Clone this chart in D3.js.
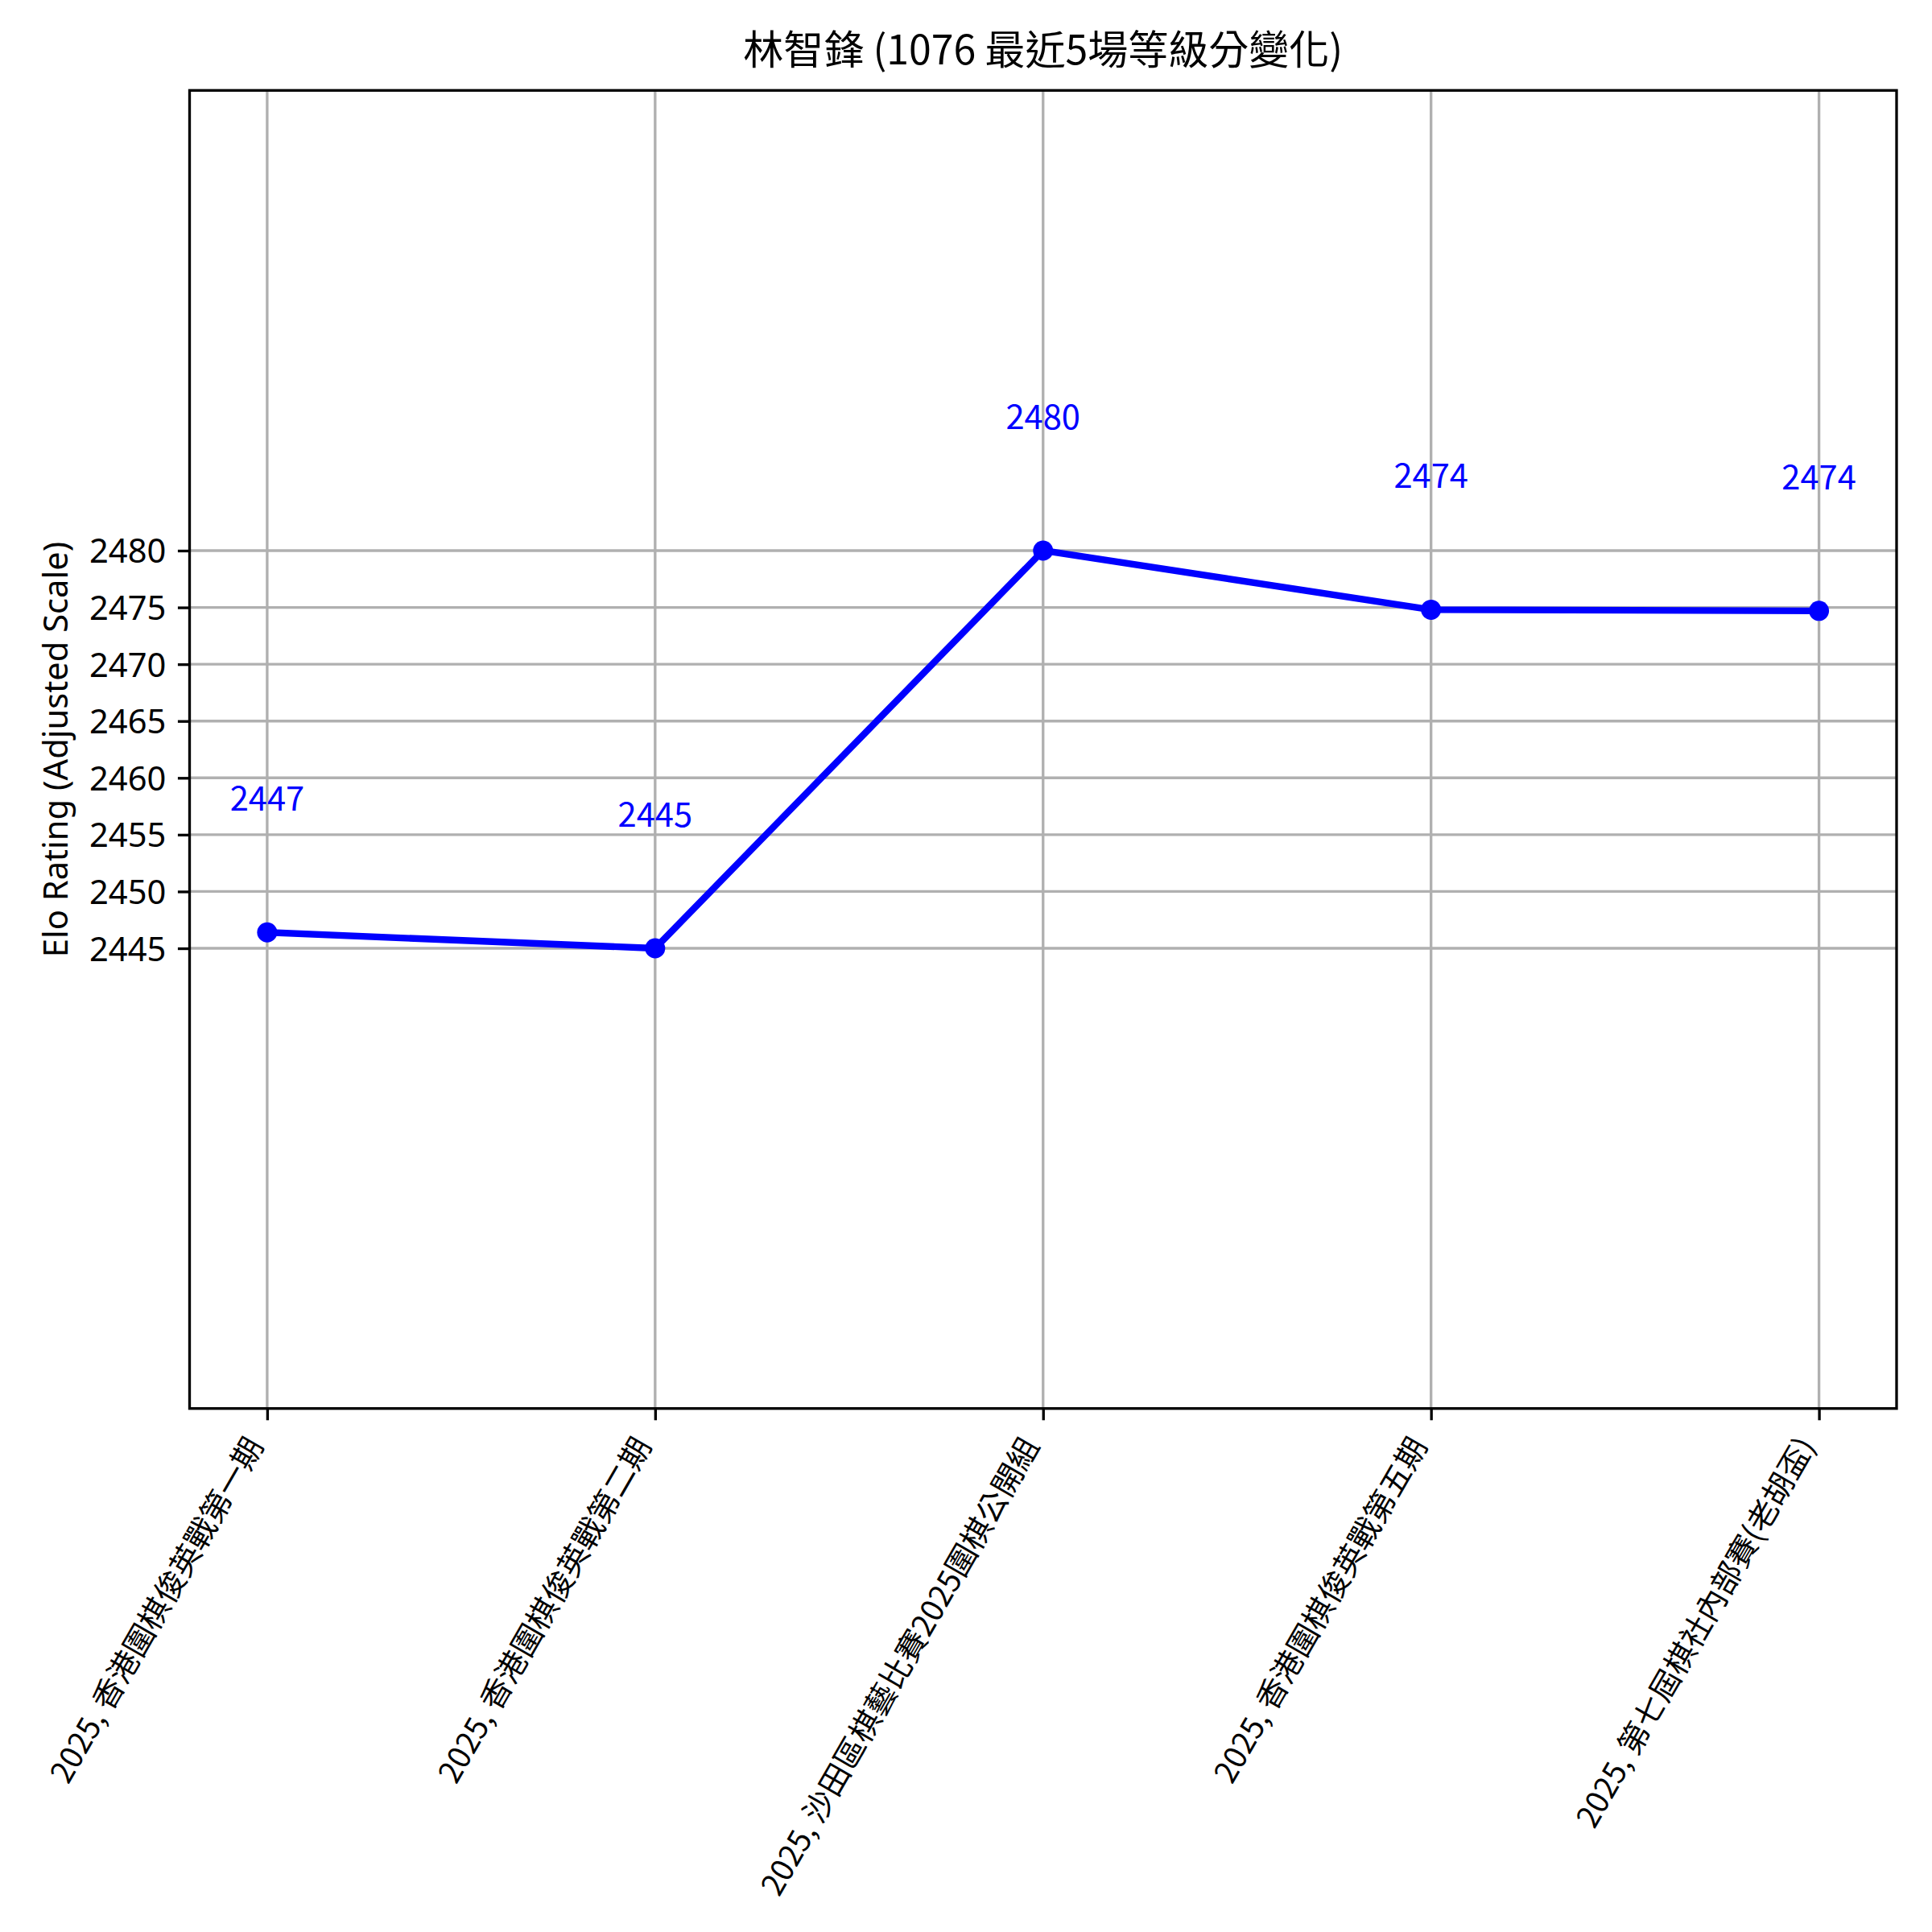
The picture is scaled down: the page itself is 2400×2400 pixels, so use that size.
<!DOCTYPE html>
<html><head><meta charset="utf-8">
<script src="https://cdn.jsdelivr.net/npm/d3@7"></script>
<style>html,body{margin:0;padding:0;background:#fff}</style>
</head><body>
<script>
// ---------- data ----------
const chartTitle = "林智鋒 (1076 最近5場等級分變化)";
const yAxisTitle = "Elo Rating (Adjusted Scale)";
const categories = [
  "2025, 香港圍棋俊英戰第一期",
  "2025, 香港圍棋俊英戰第二期",
  "2025, 沙田區棋藝比賽2025圍棋公開組",
  "2025, 香港圍棋俊英戰第五期",
  "2025, 第七屆棋社內部賽(老胡盃)"
];
const ratings = [2446.4, 2445.0, 2480.0, 2474.8, 2474.7];
const ratingLabels = ["2447", "2445", "2480", "2474", "2474"];
const yTickValues = [2445, 2450, 2455, 2460, 2465, 2470, 2475, 2480];
const yDomain = [2404.5, 2520.5];
const xDomain = [-0.2, 4.2];

// ---------- layout ----------
const W = 2400, H = 2400;
const L = 235.5, R = 2356, T = 112.3, B = 1749.7;
const pt = 300 / 72;
const tickLen = 3.5 * pt, tickPad = 3.5 * pt;
const fs10 = 10 * pt, fs12 = 12 * pt;
const fsX = 38.3;
const cjk = "'Noto Sans CJK TC', 'Noto Sans', sans-serif";
const latin = "'Noto Sans', 'Open Sans', sans-serif";

const svg = d3.select("body").append("svg")
  .attr("width", W).attr("height", H)
  .attr("viewBox", `0 0 ${W} ${H}`);
svg.append("rect").attr("width", W).attr("height", H).attr("fill", "#fff");

const x = d3.scaleLinear().domain(xDomain).range([L, R]);
const y = d3.scaleLinear().domain(yDomain).range([B, T]);
const idx = d3.range(categories.length);

// grid
const grid = svg.append("g");
grid.selectAll("line.gx").data(idx).join("line").attr("class", "gx")
  .attr("x1", d => x(d)).attr("x2", d => x(d)).attr("y1", T).attr("y2", B)
  .attr("stroke", "#b0b0b0").attr("stroke-width", 0.8 * pt);
grid.selectAll("line.gy").data(yTickValues).join("line").attr("class", "gy")
  .attr("y1", d => y(d)).attr("y2", d => y(d)).attr("x1", L).attr("x2", R)
  .attr("stroke", "#b0b0b0").attr("stroke-width", 0.8 * pt);

// line + markers
const line = d3.line().x((d, i) => x(i)).y(d => y(d));
svg.append("path").datum(ratings).attr("d", line)
  .attr("fill", "none").attr("stroke", "#0000ff").attr("stroke-width", 2 * pt)
  .attr("stroke-linejoin", "round").attr("stroke-linecap", "square");
svg.selectAll("circle.pt").data(ratings).join("circle").attr("class", "pt")
  .attr("cx", (d, i) => x(i)).attr("cy", d => y(d)).attr("r", 3 * pt)
  .attr("fill", "#0000ff");

// annotations (value + 10, bottom aligned)
svg.selectAll("text.ann").data(ratings).join("text").attr("class", "ann")
  .attr("x", (d, i) => x(i)).attr("y", d => y(d + 10) - 0.24 * fs10)
  .attr("text-anchor", "middle").attr("font-family", cjk).attr("font-size", fs10)
  .attr("fill", "#0000ff").text((d, i) => ratingLabels[i]);

// y axis
const yAxis = svg.append("g").attr("transform", `translate(${L},0)`)
  .call(d3.axisLeft(y).tickValues(yTickValues).tickFormat(d3.format("d"))
    .tickSize(tickLen).tickPadding(tickPad));
yAxis.select(".domain").remove();
yAxis.selectAll(".tick line").attr("stroke", "#000").attr("stroke-width", 0.8 * pt);
yAxis.selectAll(".tick text").attr("font-family", latin).attr("font-size", fs10)
  .attr("fill", "#000").attr("dy", "0.36em");

// x axis
const xAxis = svg.append("g").attr("transform", `translate(0,${B})`)
  .call(d3.axisBottom(x).tickValues(idx).tickFormat(i => categories[i])
    .tickSize(tickLen).tickPadding(tickPad));
xAxis.select(".domain").remove();
xAxis.selectAll(".tick line").attr("stroke", "#000").attr("stroke-width", 0.8 * pt);
const asc = 0.88 * fsX, desc = 0.12 * fsX;
xAxis.selectAll(".tick text")
  .attr("font-family", cjk).attr("font-size", fsX).attr("fill", "#000")
  .attr("y", null).attr("dy", null).attr("x", null)
  .attr("text-anchor", "end")
  .attr("transform", `translate(${-0.866 * desc},${tickLen + tickPad + 0.5 * asc}) rotate(-60)`);

// spines
svg.append("rect").attr("x", L).attr("y", T).attr("width", R - L).attr("height", B - T)
  .attr("fill", "none").attr("stroke", "#000").attr("stroke-width", 0.8 * pt)
  .attr("stroke-linejoin", "miter");

// title
svg.append("text").attr("x", (L + R) / 2).attr("y", T - 6 * pt - 0.14 * fs12)
  .attr("text-anchor", "middle").attr("font-family", cjk).attr("font-size", fs12)
  .attr("fill", "#000").text(chartTitle);

// y label
svg.append("text").attr("transform", `translate(84,${(T + B) / 2}) rotate(-90)`)
  .attr("text-anchor", "middle").attr("font-family", latin).attr("font-size", fs10)
  .attr("fill", "#000").text(yAxisTitle);
</script>
</body></html>
